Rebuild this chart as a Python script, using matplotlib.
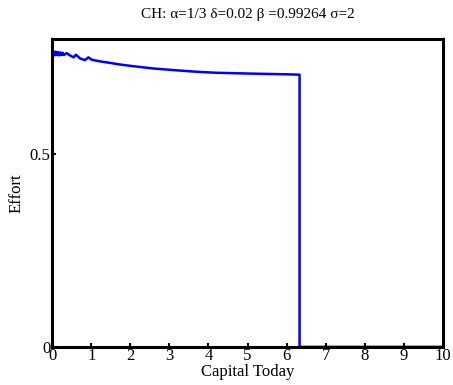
import matplotlib
matplotlib.use("Agg")
import matplotlib.pyplot as plt

# capital grid and effort policy
capital = [0.0, 0.03, 0.06, 0.09, 0.12, 0.15, 0.18, 0.21, 0.24, 0.27, 0.3, 0.37, 0.46,
           0.55, 0.61, 0.72, 0.84, 0.93, 1.01, 1.2, 1.4, 1.55, 1.7, 1.85, 2.0, 2.25, 2.6,
           3.1, 3.5, 3.8, 4.2, 4.6, 5.0, 5.5, 6.0, 6.33, 6.33, 10.0]
effort = [0.762, 0.768, 0.757, 0.767, 0.758, 0.766, 0.757, 0.765, 0.758, 0.764, 0.758,
          0.763, 0.757, 0.752, 0.759, 0.749, 0.745, 0.752, 0.746, 0.742, 0.739, 0.7365,
          0.734, 0.732, 0.730, 0.727, 0.723, 0.719, 0.716, 0.714, 0.712, 0.711, 0.710,
          0.709, 0.708, 0.707, 0.0, 0.0]

xticks = list(range(0, 11))
yticks = [0, 0.5]
ytick_labels = ["0", "0.5"]

plt.rcParams['font.family'] = ['Liberation Serif', 'DejaVu Serif']

fig = plt.figure(figsize=(4.53, 3.85), dpi=100)
ax = fig.add_axes([0.115, 0.099, 0.863, 0.8])

ax.plot(capital, effort, color='#0000ff', lw=1.8)

ax.set_xlim(0, 10)
ax.set_ylim(0, 0.8)
ax.set_xticks(xticks)
ax.set_yticks(yticks)
ax.set_yticklabels(ytick_labels)
ax.tick_params(direction='in', length=3, width=1.5, labelsize=12, pad=1)
for s in ax.spines.values():
    s.set_linewidth(2.2)

ax.set_xlabel("Capital Today", fontsize=12, labelpad=0)
ax.set_ylabel("Effort", fontsize=12, labelpad=4)
ax.set_title("CH: \u03b1=1/3 \u03b4=0.02 \u03b2 =0.99264 \u03c3=2", fontsize=11, pad=15)

fig.savefig("out.png", dpi=100)
